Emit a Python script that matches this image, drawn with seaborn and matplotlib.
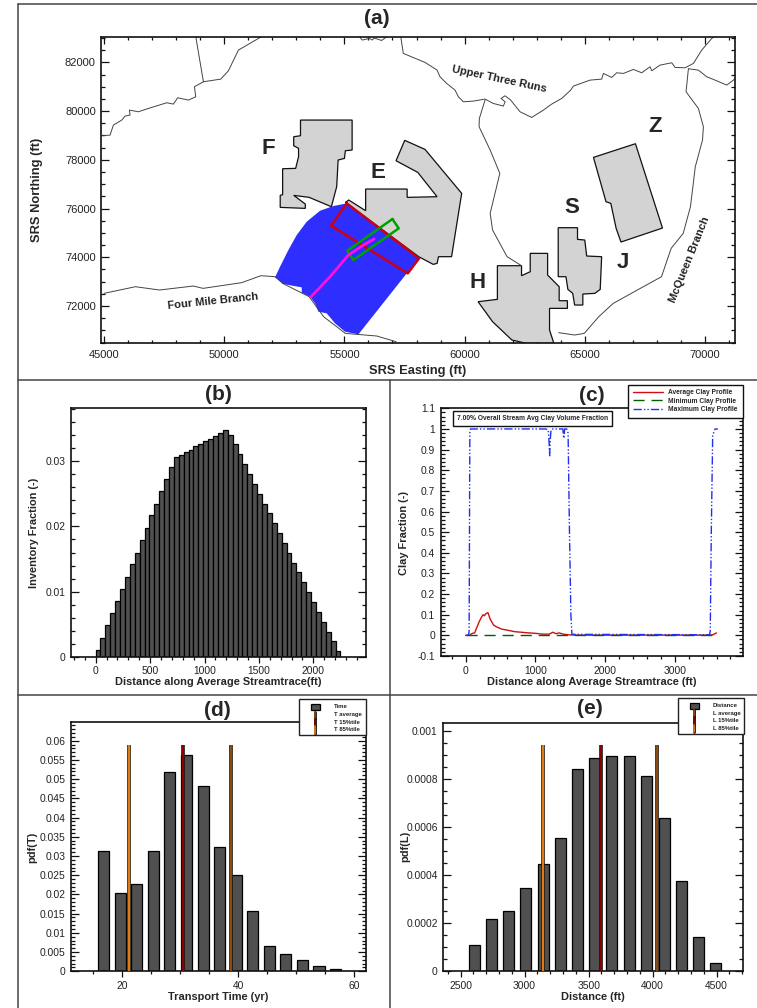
#!/usr/bin/env python3

import matplotlib.patheffects as pe
import matplotlib.pyplot as plt
import seaborn as sns
from matplotlib.lines import Line2D
from matplotlib.patches import Rectangle
from matplotlib.ticker import FuncFormatter, MultipleLocator

FIG_W, FIG_H = 757, 1008

# panel (a): site map, all in SRS feet
area_f_x = [53173, 55321, 55321, 55040, 55000, 54739, 54679, 54458, 53534, 52891, 53373, 53373, 52329, 52329, 52430, 52430, 52972, 53092, 53092, 52891, 52891, 53173]
area_f_y = [79633, 79633, 78402, 78375, 78060, 77992, 76897, 76077, 76460, 76542, 76186, 76008, 76049, 76542, 76569, 77636, 77650, 78129, 78471, 78580, 78949, 78990]
area_e_x = [57510, 58353, 59879, 59458, 58915, 58855, 58695, 58092, 55140, 55040, 55181, 55883, 55883, 57610, 57610, 58855, 58052, 57148]
area_e_y = [78799, 78430, 76624, 74025, 74025, 73751, 73710, 74025, 76186, 76254, 76350, 75912, 76802, 76802, 76460, 76487, 77486, 77964]
area_h_x = [61365, 62369, 62369, 62731, 62731, 63454, 63454, 63935, 63935, 64277, 64277, 63534, 63534, 63715, 62570, 61968, 61164, 60562, 61365]
area_h_y = [73655, 73655, 73245, 73409, 74161, 74161, 73272, 72793, 72219, 72219, 71904, 71904, 71015, 70468, 70468, 70605, 71357, 72178, 72274]
area_s_x = [63895, 64698, 64698, 65000, 65080, 65702, 65642, 65421, 64919, 64919, 64578, 64498, 64297, 64217, 63895]
area_s_y = [75215, 75215, 74736, 74709, 74052, 74025, 72684, 72520, 72492, 72041, 72041, 72520, 72684, 73204, 73204]
area_z_x = [65361, 67108, 68233, 66506, 66305, 66084, 65883]
area_z_y = [78101, 78662, 75201, 74627, 75187, 76213, 76282]

plume_x = [55096, 54542, 53987, 53432, 53016, 52669, 52323, 52114, 52461, 53224, 53224, 53571, 53779, 53918, 54264, 54611, 55027, 55582, 57593, 58079]
plume_y = [76213, 76104, 75912, 75461, 74913, 74298, 73614, 73176, 72902, 72766, 72547, 72383, 72109, 71767, 71699, 71288, 70946, 70837, 73340, 73956]
red_box_x = [55096, 58106, 57635, 54445, 55096]
red_box_y = [76213, 73956, 73340, 75296, 76213]
green_box_x = [56997, 57260, 55374, 55124, 56997]
green_box_y = [75570, 75187, 73887, 74270, 75570]
trace_x = [53612, 54403, 55166, 55790, 56234]
trace_y = [72383, 73203, 74093, 74503, 74749]

stream_west_x = [44931, 45250, 45389, 45736, 45874, 46082, 46055, 46429, 46845, 47608, 47885, 48066, 48510, 48815, 48759, 49134, 49855, 50174, 50590, 51422, 51533]
stream_west_y = [78989, 79016, 79426, 79631, 79796, 79837, 80042, 79973, 80110, 80343, 80288, 80548, 80452, 80589, 81000, 81205, 81314, 81656, 82504, 82983, 83051]
stream_spur_x = [48829, 48829, 49134]
stream_spur_y = [83051, 82983, 81205]
stream_top_x = [55642, 55743, 56044, 56150, 56245, 56546, 56747]
stream_top_y = [83030, 82917, 82985, 82917, 83000, 82900, 83040]
upper_three_x = [57349, 57450, 58353, 58855, 58978, 59255, 59602, 59741, 59949, 60365, 60850, 61197, 61613, 61683, 61516, 61683, 61918, 62307, 62792, 63278, 63624, 64041, 64415, 64526, 65220, 65705, 65774, 66121, 66329, 66607, 67023, 67369, 67716, 67785, 68132, 68618, 68756, 69172, 69519, 69866, 70282, 70379]
upper_three_y = [83026, 82369, 82000, 81685, 81410, 81136, 80863, 80589, 80384, 80411, 80493, 80315, 80206, 80384, 80521, 80630, 80452, 79973, 79741, 80042, 80288, 80521, 80863, 81027, 81273, 81314, 81547, 81382, 81574, 81547, 81711, 81574, 81820, 81656, 81889, 81984, 81793, 81779, 81957, 82504, 82983, 83051]
stream_east_x = [69311, 69727, 70074, 70421, 70906, 71184, 71300]
stream_east_y = [81738, 81683, 81410, 81273, 81068, 81273, 81400]
mcqueen_x = [69311, 69214, 69727, 69935, 69899, 69598, 69397, 69096, 68594, 68192, 67188, 66184, 65582, 64980, 64578, 63915]
mcqueen_y = [81738, 80794, 80110, 79358, 78813, 77718, 76077, 74982, 74367, 73204, 72657, 72109, 71562, 70878, 70810, 70906]
stream_mid_x = [60850, 60615, 60602, 61064, 61466, 61064, 61164, 61767, 62369]
stream_mid_y = [80452, 79700, 79360, 78402, 77445, 75803, 75119, 74025, 73655]
four_mile_x = [45000, 46305, 47309, 48715, 49116, 50723, 51526, 52128, 52430, 53534, 54136, 55040, 56345, 57148]
four_mile_y = [72520, 72793, 72657, 72821, 72725, 72958, 73245, 73204, 72930, 72383, 71562, 70878, 70769, 70536]

# panel (b)
inv_dist = [21, 66, 111, 156, 201, 246, 291, 336, 381, 426, 471, 516, 561, 606, 651, 696, 741, 786, 831, 876, 921, 966, 1011, 1056, 1101, 1146, 1191, 1236, 1281, 1326, 1371, 1416, 1461, 1506, 1551, 1596, 1641, 1686, 1731, 1776, 1821, 1866, 1911, 1956, 2001, 2046, 2091, 2136, 2181, 2226]
inv_frac = [0.001, 0.0029, 0.0048, 0.0067, 0.0085, 0.0104, 0.0123, 0.0142, 0.016, 0.0179, 0.0198, 0.0217, 0.0235, 0.0254, 0.0273, 0.0291, 0.0306, 0.031, 0.0314, 0.0318, 0.0323, 0.0327, 0.0331, 0.0335, 0.0339, 0.0344, 0.0348, 0.0341, 0.0326, 0.0311, 0.0296, 0.028, 0.0265, 0.025, 0.0235, 0.022, 0.0205, 0.019, 0.0174, 0.016, 0.0144, 0.013, 0.0115, 0.0099, 0.0084, 0.0069, 0.0054, 0.0038, 0.0024, 0.0009]

# panel (c)
avg_dist = [0, 60, 70, 100, 130, 150, 200, 230, 250, 270, 290, 320, 350, 400, 450, 520, 600, 700, 800, 900, 1000, 1100, 1200, 1250, 1300, 1340, 1400, 1500, 1600, 3500, 3550, 3600]
avg_clay = [0, 0, 0.005, 0.01, 0.012, 0.03, 0.07, 0.09, 0.1, 0.095, 0.105, 0.11, 0.08, 0.05, 0.04, 0.03, 0.025, 0.018, 0.015, 0.012, 0.01, 0.006, 0.006, 0.015, 0.008, 0.012, 0.006, 0.002, 0.001, 0.001, 0.003, 0.012]
min_dist = [0, 3600]
min_clay = [0, 0]
max_dist = [0, 40, 50, 55, 60, 70, 1150, 1185, 1195, 1205, 1215, 1225, 1250, 1395, 1405, 1412, 1420, 1450, 1470, 1490, 1510, 1525, 3500, 3510, 3525, 3545, 3580, 3620]
max_clay = [0, 0, 0.02, 0.5, 0.98, 1, 1, 0.995, 0.95, 0.87, 0.95, 0.995, 1, 1, 0.96, 0.955, 1, 1, 0.98, 0.5, 0.1, 0.005, 0.003, 0.02, 0.5, 0.97, 1, 1]

# panel (d)
time_bins = [16.8, 19.6, 22.5, 25.3, 28.2, 31.0, 34.0, 36.8, 39.7, 42.5, 45.3, 48.2, 51.1, 53.9, 56.8]
time_pdf = [0.0314, 0.0204, 0.0226, 0.0313, 0.0518, 0.0562, 0.0482, 0.0323, 0.025, 0.0156, 0.0067, 0.0044, 0.0029, 0.0013, 0.0006]
time_marks = [21.2, 30.4, 38.7]
time_mark_top = 0.059

# panel (e)
dist_bins = [2608, 2741, 2875, 3010, 3146, 3279, 3414, 3547, 3682, 3818, 3953, 4089, 4224, 4357, 4492]
dist_pdf = [0.000108, 0.000217, 0.000252, 0.000346, 0.000447, 0.000555, 0.000839, 0.000888, 0.000893, 0.000893, 0.000813, 0.000636, 0.000374, 0.000143, 0.000036]
dist_marks = [3146, 3596, 4036]
dist_mark_top = 0.000939

BAR_GREY = "#505050"
MARK_COLORS = ["#e07a10", "#8b0000", "#8a4a10"]


def px(x, y):
    return x / FIG_W, 1 - y / FIG_H


def make_axes(left, top, right, bottom):
    ax = fig.add_axes([left / FIG_W, 1 - bottom / FIG_H, (right - left) / FIG_W, (bottom - top) / FIG_H])
    return ax


def style_axes(ax, xlim, ylim, xmajor, xminor, ymajor, yminor, size=7.4, boxed=False):
    ax.set_xlim(xlim)
    ax.set_ylim(ylim)
    ax.xaxis.set_major_locator(MultipleLocator(xmajor))
    ax.xaxis.set_minor_locator(MultipleLocator(xminor))
    ax.yaxis.set_major_locator(MultipleLocator(ymajor))
    ax.yaxis.set_minor_locator(MultipleLocator(yminor))
    fmt = FuncFormatter(lambda v, _: f"{v:g}" if abs(v) > 1e-12 else "0")
    ax.xaxis.set_major_formatter(FuncFormatter(lambda v, _: f"{v:.0f}"))
    ax.yaxis.set_major_formatter(fmt)
    ax.tick_params(which="both", width=0.9, color="#111111")
    ax.tick_params(which="major", labelsize=size, labelcolor="#222222")
    # the map has ticks inside on all four sides, the plots have them out below
    if boxed:
        ax.tick_params(axis="x", which="both", direction="in", top=True, pad=5)
    else:
        ax.tick_params(axis="x", which="both", direction="out", top=False, pad=2.5)
    ax.tick_params(axis="y", which="both", direction="in", right=True, pad=4)
    ax.tick_params(axis="y", which="major", length=5.5)
    ax.tick_params(axis="y", which="minor", length=2.8)
    ax.tick_params(axis="x", which="major", length=5 if boxed else 4.5)
    ax.tick_params(axis="x", which="minor", length=2.5)
    for spine in ax.spines.values():
        spine.set_linewidth(1.2)
        spine.set_color("#111111")


def set_labels(ax, xlabel, xpos, ylabel, ypos, size=7.9):
    ax.set_xlabel(xlabel, fontsize=size, fontweight="bold", va="center")
    ax.set_ylabel(ylabel, fontsize=size, fontweight="bold", va="center")
    ax.xaxis.set_label_coords(*px(*xpos), transform=fig.transFigure)
    ax.yaxis.set_label_coords(*px(*ypos), transform=fig.transFigure)


def panel_title(label, x, y):
    fig.text(*px(x, y), label, fontsize=15, fontweight="bold", ha="center", va="center")


def draw_bars(ax, xvals, yvals, width):
    sns.barplot(
        x=xvals,
        y=yvals,
        native_scale=True,
        orient="x",
        errorbar=None,
        color=BAR_GREY,
        saturation=1,
        width=width,
        edgecolor="black",
        linewidth=0.9,
        ax=ax,
    )


def draw_marks(ax, marks, top):
    for x, color in zip(marks, MARK_COLORS):
        ax.vlines(
            x,
            0,
            top,
            color=color,
            linewidth=1.6,
            zorder=5,
            path_effects=[pe.Stroke(linewidth=2.6, foreground="#111111"), pe.Normal()],
        )


def draw_key(box, swatch, stem_x, stem_ys, text_x, text_ys, labels):
    left, top, right, bottom = box
    fig.add_artist(Rectangle(px(left, bottom), (right - left) / FIG_W, (bottom - top) / FIG_H,
                             transform=fig.transFigure, fc="white", ec="#222222", lw=1))
    s_left, s_top, s_right, s_bottom = swatch
    fig.add_artist(Rectangle(px(s_left, s_bottom), (s_right - s_left) / FIG_W, (s_bottom - s_top) / FIG_H,
                             transform=fig.transFigure, fc=BAR_GREY, ec="black", lw=0.9))
    for i, color in enumerate(MARK_COLORS[::-1]):
        x0, y0 = px(stem_x, stem_ys[i])
        x1, y1 = px(stem_x, stem_ys[i + 1])
        fig.add_artist(Line2D([x0, x1], [y0, y1], transform=fig.transFigure, color=color, lw=1.3,
                              path_effects=[pe.Stroke(linewidth=2, foreground="#111111"), pe.Normal()]))
    for y, label in zip(text_ys, labels):
        fig.text(*px(text_x, y), label, fontsize=4.3, fontweight="bold", va="center", color="#222222")


sns.set_theme(style="ticks")
plt.rcParams["font.family"] = ["Liberation Sans", "DejaVu Sans"]
fig = plt.figure(figsize=(FIG_W / 100, FIG_H / 100), dpi=100)

# panel separators
for x0, y0, x1, y1 in [(18, 4, 757, 4), (18, 4, 18, 1008), (18, 380, 757, 380), (18, 694.5, 757, 694.5), (390, 380, 390, 1008)]:
    fig.add_artist(Line2D(*zip(px(x0, y0), px(x1, y1)), transform=fig.transFigure, color="#444444", lw=1.1))

#
# (a) site map
#
ax_a = make_axes(101.4, 37.3, 735, 343.3)
for xs, ys in [(stream_west_x, stream_west_y), (stream_spur_x, stream_spur_y), (stream_top_x, stream_top_y),
               (upper_three_x, upper_three_y), (stream_east_x, stream_east_y), (mcqueen_x, mcqueen_y),
               (stream_mid_x, stream_mid_y), (four_mile_x, four_mile_y)]:
    sns.lineplot(x=xs, y=ys, sort=False, estimator=None, color="#444444", linewidth=0.7, ax=ax_a)
for xs, ys in [(area_f_x, area_f_y), (area_e_x, area_e_y), (area_h_x, area_h_y), (area_s_x, area_s_y), (area_z_x, area_z_y)]:
    ax_a.fill(xs, ys, facecolor="#d3d3d3", edgecolor="#111111", linewidth=0.9)
ax_a.fill(plume_x, plume_y, facecolor="#2e2eff", edgecolor="none")
sns.lineplot(x=red_box_x, y=red_box_y, sort=False, estimator=None, color="#cc0010", linewidth=1.8, ax=ax_a)
sns.lineplot(x=green_box_x, y=green_box_y, sort=False, estimator=None, color="#00a000", linewidth=1.8, ax=ax_a)
sns.lineplot(x=trace_x, y=trace_y, sort=False, estimator=None, color="#ff10e0", linewidth=2, ax=ax_a)
style_axes(ax_a, (44890, 71250), (70470, 83030), 5000, 1000, 2000, 500, size=8, boxed=True)
set_labels(ax_a, "SRS Easting (ft)", (418, 371), "SRS Northing (ft)", (37, 190), size=9.3)
panel_title("(a)", 377, 19)

for letter, x, y in [("F", 268, 149), ("E", 378, 172), ("Z", 655, 127), ("S", 572, 208), ("J", 623, 263), ("H", 478, 283)]:
    fig.text(*px(x, y), letter, fontsize=16, fontweight="bold", ha="center", va="center")
for name, x, y, angle in [("Upper Three Runs", 499, 79, -12), ("Four Mile Branch", 213, 301, 6), ("McQueen Branch", 690, 260, 68)]:
    fig.text(*px(x, y), name, fontsize=8, fontweight="bold", ha="center", va="center", rotation=angle,
             rotation_mode="anchor", color="#222222")

#
# (b) inventory histogram
#
ax_b = make_axes(70.7, 408.3, 365.7, 656.7)
draw_bars(ax_b, inv_dist, inv_frac, 1)
style_axes(ax_b, (-230, 2481), (0, 0.03815), 500, 100, 0.01, 0.002)
set_labels(ax_b, "Distance along Average Streamtrace(ft)", (218, 682), "Inventory Fraction (-)", (34, 533))
panel_title("(b)", 218, 395)

#
# (c) clay profiles
#
ax_c = make_axes(440.7, 408.3, 743, 656)
sns.lineplot(x=avg_dist, y=avg_clay, estimator=None, color="#d01010", linewidth=1, label="Average Clay Profile", ax=ax_c)
sns.lineplot(x=min_dist, y=min_clay, estimator=None, color="#006000", linewidth=1, linestyle=(0, (8, 5)),
             label="Minimum Clay Profile", ax=ax_c)
sns.lineplot(x=max_dist, y=max_clay, estimator=None, color="#2030f0", linewidth=1, linestyle=(0, (6, 1.5, 1, 1.5, 1, 1.5)),
             label="Maximum Clay Profile", ax=ax_c)
style_axes(ax_c, (-358, 3980), (-0.1, 1.1), 1000, 200, 0.1, 0.02)
set_labels(ax_c, "Distance along Average Streamtrace (ft)", (592, 682), "Clay Fraction (-)", (404, 533))
panel_title("(c)", 592, 396)
key = ax_c.legend(loc="upper right", bbox_to_anchor=px(742.5, 384.5), bbox_transform=fig.transFigure,
                  prop={"size": 4.8, "weight": "bold"}, frameon=True, fancybox=False, edgecolor="#111111",
                  framealpha=1, handlelength=4.5, labelspacing=0.18, borderaxespad=0, borderpad=0.75, handletextpad=0.75)
key.get_frame().set_linewidth(1)
key.set_zorder(20)
ax_c.text(*px(532.5, 418.3), "7.00% Overall Stream Avg Clay Volume Fraction", transform=fig.transFigure,
          fontsize=4.8, fontweight="bold", ha="center", va="center", zorder=15,
          bbox=dict(boxstyle="square,pad=0.6", fc="white", ec="#111111", lw=1))

#
# (d) transport time pdf
#
ax_d = make_axes(71.3, 721.7, 365.7, 971.3)
draw_bars(ax_d, time_bins, time_pdf, 0.68)
draw_marks(ax_d, time_marks, time_mark_top)
style_axes(ax_d, (11.2, 61.95), (0, 0.06495), 20, 5, 0.005, 0.001)
set_labels(ax_d, "Transport Time (yr)", (218, 997), "pdf(T)", (32, 847))
panel_title("(d)", 217, 710)
draw_key((299.3, 699, 365.7, 735), (311, 704, 320, 710.3), 315.3, [711.5, 718.7, 726, 733.5], 334.3,
         [706.7, 714.7, 722.3, 729.7], ["Time", "T average", "T 15%tile", "T 85%tile"])

#
# (e) path length pdf
#
ax_e = make_axes(443.3, 723, 743.3, 971.3)
draw_bars(ax_e, dist_bins, dist_pdf, 0.645)
draw_marks(ax_e, dist_marks, dist_mark_top)
style_axes(ax_e, (2365, 4708), (0, 0.001032), 500, 100, 0.0002, 0.00005)
set_labels(ax_e, "Distance (ft)", (593, 997), "pdf(L)", (405, 846))
panel_title("(e)", 590, 709)
draw_key((677.7, 697.7, 744, 733.7), (689.5, 702.7, 698.5, 708.7), 694, [710, 717.3, 724.6, 732], 712.7,
         [705.7, 713, 720.3, 728], ["Distance", "L average", "L 15%tile", "L 85%tile"])

fig.savefig("out.png", dpi=100)
plt.close(fig)
